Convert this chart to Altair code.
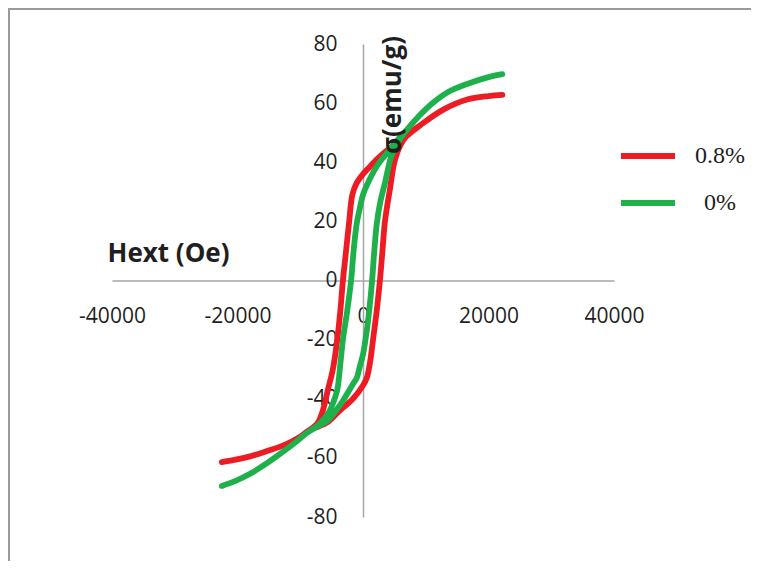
import altair as alt
import pandas as pd

# 0.8% sample: descending branch (from +H max) then ascending branch
red_H = [22200, 20000, 16600, 12800, 9100, 7000, 5500, 3800, 2200, 1100, 0, -1000, -1700, -2200, -2700,
         -3200, -3600, -4100, -4800, -5600, -6400, -7300, -8500, -10000, -12500, -15300, -18000, -20500, -22500,
         -20500, -18000, -15300, -12500, -10000, -8500, -7000, -5700, -3700, -1600, 0, 600, 1100, 1600, 2200,
         2700, 3100, 3500, 4300, 5000, 5900, 7000, 9100, 12800, 16600, 20000, 22200]
red_sigma = [62.8, 62.4, 61.2, 57.8, 52.5, 49, 46.5, 44, 41, 38.5, 36, 33, 29, 20, 10,
             0, -10, -20, -30, -37, -44, -48.5, -50.5, -52.8, -55.6, -57.7, -59.5, -60.7, -61.4,
             -60.7, -59.5, -57.7, -55.6, -52.8, -50.5, -49.3, -48, -44, -40, -35.5, -33, -28, -20, -10,
             0, 10, 20, 31, 40, 45.5, 49, 52.5, 57.8, 61.2, 62.4, 62.8]

# 0% sample
green_H = [22200, 20000, 16600, 13500, 11200, 9000, 7000, 5500, 4400, 3000, 2000, 1000, 0, -500, -1000,
           -1500, -1900, -2500, -3200, -3600, -4100, -4700, -5300, -6200, -7200, -8900, -10800, -12800,
           -15300, -18000, -20300, -22500,
           -20300, -18000, -15300, -12800, -10800, -8900, -7200, -5700, -4500, -3200, -1600, -1000, -500, 0,
           600, 1000, 1450, 1800, 2200, 2800, 3500, 4500, 5500, 7000, 9000, 11200, 13500, 16600, 20000, 22200]
green_sigma = [69.8, 68.8, 66.5, 63.7, 60.2, 55.8, 51, 47.5, 44.5, 41, 38, 34, 29, 24.5, 19.3,
               10, 0, -10, -20, -28, -37, -41, -44, -46.7, -49, -51.5, -54.8, -58,
               -61.8, -65.4, -67.8, -69.5,
               -67.8, -65.4, -61.8, -58, -54.8, -51.5, -49.3, -47.5, -44.5, -40.7, -35, -33, -29, -25,
               -17, -10, 0, 10, 19.3, 27, 33, 42, 46.5, 51, 55.8, 60.2, 63.7, 66.5, 68.8, 69.8]

series_names = ["0.8%", "0%"]
series_colors = ["#ED1C24", "#1DB04B"]
x_ticks = [-40000, -20000, 0, 20000, 40000]
y_ticks = [-80, -60, -40, -20, 0, 20, 40, 60, 80]
x_title = "Hext (Oe)"
y_title = "σ(emu/g)"

rows = []
for name, hs, ss in [("0.8%", red_H, red_sigma), ("0%", green_H, green_sigma)]:
    for i, (h, s) in enumerate(zip(hs, ss)):
        rows.append({"H": h, "sigma": s, "series": name, "order": i})
df = pd.DataFrame(rows)

W, H = 502, 473
axis_gray = "#A6A6A6"
text_col = "#1F1F1F"

x_enc = alt.X(
    "H:Q",
    scale=alt.Scale(domain=[-40000, 40000], nice=False, zero=False),
    axis=alt.Axis(
        values=x_ticks, labelExpr="'' + datum.value", orient="bottom", offset=-H / 2,
        ticks=False, tickSize=0, grid=False, domainColor=axis_gray, domainWidth=1.5,
        labelFont="Open Sans", labelFontSize=21, labelColor=text_col, labelPadding=25,
        labelFlush=False, labelOverlap=False,
        title=x_title, titleX=56, titleY=-19, titleFont="Open Sans", titleFontSize=26,
        titleFontWeight="bold", titleColor=text_col, titleBaseline="alphabetic", titleAlign="center",
    ),
)
y_enc = alt.Y(
    "sigma:Q",
    scale=alt.Scale(domain=[-80, 80], nice=False, zero=False),
    axis=alt.Axis(
        values=y_ticks, labelExpr="'' + datum.value", orient="left", offset=-W / 2,
        ticks=False, tickSize=0, grid=False, domainColor=axis_gray, domainWidth=1.5,
        labelFont="Open Sans", labelFontSize=21, labelColor=text_col, labelPadding=26,
        labelFlush=False, labelOverlap=False, title=None,
    ),
)

lines = alt.Chart(df).mark_line(
    strokeWidth=5.8, strokeCap="round", strokeJoin="round", interpolate="catmull-rom"
).encode(
    x=x_enc,
    y=y_enc,
    color=alt.Color(
        "series:N",
        scale=alt.Scale(domain=series_names, range=series_colors),
        legend=alt.Legend(
            orient="none", legendX=506, legendY=82, direction="vertical", title=None,
            symbolType="stroke", symbolSize=2916, symbolStrokeWidth=6, padding=0,
            labelFont="Liberation Serif", labelFontSize=24, labelColor=text_col,
            labelAlign="center", labelOffset=42, rowPadding=5,
        ),
    ),
    order="order:Q",
)

frame = pd.DataFrame({"t": [y_title]})
y_label = alt.Chart(frame).mark_text(
    angle=270, align="center", baseline="alphabetic", font="Open Sans", fontSize=26,
    fontWeight="bold", color=text_col,
).encode(text="t:N", x=alt.value(W / 2 + 38), y=alt.value(51))

border_left = alt.Chart(frame).mark_rule(color="#9A9A9A", strokeWidth=2).encode(
    x=alt.value(-103), y=alt.value(-36), y2=alt.value(H + 44)
)
border_top = alt.Chart(frame).mark_rule(color="#9A9A9A", strokeWidth=2).encode(
    x=alt.value(-104), x2=alt.value(W + 137), y=alt.value(-35)
)

chart = alt.layer(border_left, border_top, lines, y_label).properties(
    width=W, height=H,
    padding={"left": 104, "top": 36, "right": 137, "bottom": 44},
    autosize=alt.AutoSizeParams(type="none"),
).configure_view(stroke=None)

chart.save("out.html", embed_options={"renderer": "svg", "actions": False})
